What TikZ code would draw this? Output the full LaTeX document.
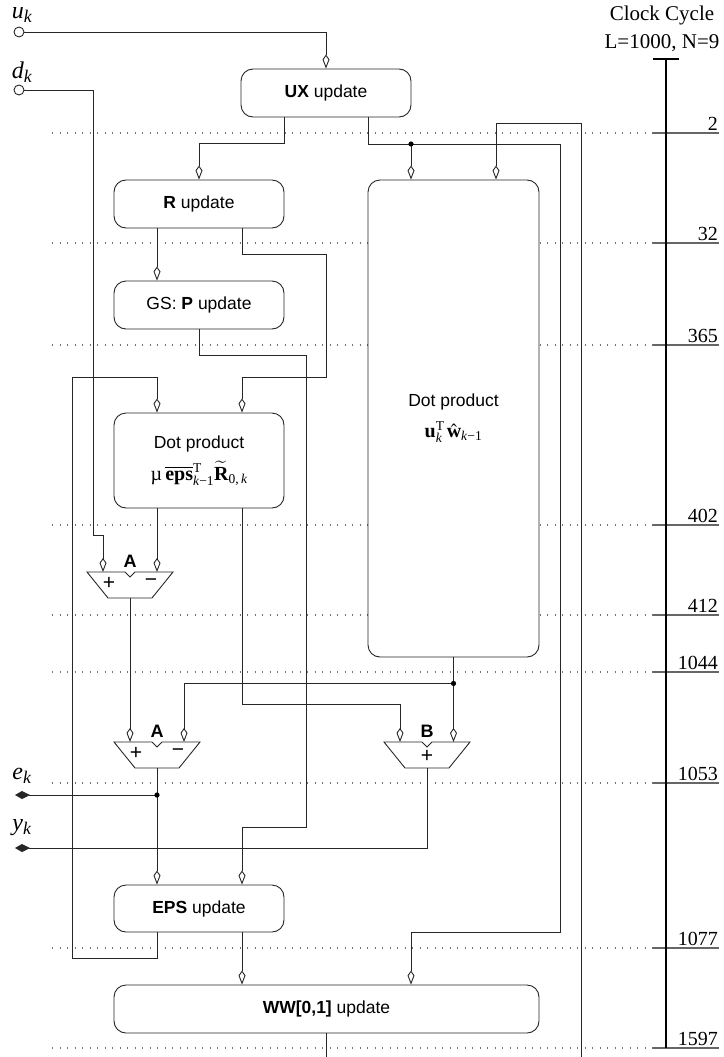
\documentclass[tikz,border=0pt]{standalone}
\usepackage{mathptmx}
\usepackage[no-math]{fontspec}
\setmainfont{Liberation Serif}
\newfontfamily\hv{Liberation Sans}
\usetikzlibrary{arrows.meta,calc}
\newcommand\scr[1]{\hbox{\rmfamily\fontsize{13.5}{14}\selectfont #1}}

\tikzset{
  subA/.pic={
    \draw[wire] (-43,0) -- (-5,0) -- (0,5) -- (5,0) -- (43,0) -- (22,26) -- (-22,26) -- cycle;
    \coordinate (-l) at (-27,0);
    \coordinate (-r) at (27,0);
    \coordinate (-o) at (0,26);
    \node[tag] (-tag) at (0,-11) {\tikzpictext};
    \node[sgn] (-p) at (-21,11) {+};
    \node[sgn] (-m) at (21,11) {−};
  },
  addB/.pic={
    \draw[wire] (-43,0) -- (-5,0) -- (0,5) -- (5,0) -- (43,0) -- (22,26) -- (-22,26) -- cycle;
    \coordinate (-l) at (-27,0);
    \coordinate (-r) at (27,0);
    \coordinate (-o) at (0,26);
    \node[tag] (-tag) at (0,-11) {\tikzpictext};
    \node[sgn] (-p) at (0,14) {+};
  }
}

\begin{document}
\begin{tikzpicture}[x=1pt,y=-1pt,
  wire/.style={line width=0.9pt,black!85},
  flow/.style={wire,-{Kite[open,length=14pt,width=7pt,inset=5pt]}},
  outflow/.style={wire,-{Kite[length=15pt,width=8pt,inset=8pt]}},
  blk/.style={draw=black!85,line width=0.9pt,fill=white,rounded corners=12pt,minimum width=170pt,minimum height=48pt,inner sep=0pt,align=center,font=\hv\fontsize{17.5}{21}\selectfont},
  port/.style={circle,draw=black!85,line width=0.9pt,minimum size=10pt,inner sep=0pt},
  lbl/.style={font=\fontsize{20}{22}\selectfont,inner sep=0pt},
  iolbl/.style={font=\itshape\fontsize{24}{26}\selectfont,inner sep=0pt},
  tag/.style={font=\hv\bfseries\fontsize{18}{20}\selectfont,inner sep=0pt},
  sgn/.style={font=\hv\fontsize{21}{22}\selectfont,inner sep=0pt},
  cycline/.style={black!55,line width=1.2pt,dash pattern=on 1.2pt off 6.3pt},
]
  \useasboundingbox (0,0) rectangle (723,1057);

  % clock cycle axis
  \foreach \y/\cc in {133/2,243/32,345/365,525/402,615/412,672/1044,783/1053,948/1077,1048/1597}{
    \draw[cycline] (52,\y) -- (653,\y);
    \draw[black!60,line width=1.1pt] (653,\y) -- (719,\y);
    \node[lbl,anchor=base east] at (718,\y-3) {\cc};
  }
  \draw[line width=2.2pt] (653,59) -- (679,59);
  \draw[line width=2.2pt] (666,59) -- (666,1048);
  \node[lbl,align=center,font=\fontsize{21}{28}\selectfont] (clk) at (662,29) {Clock Cycle\\L=1000, N=9};

  % inputs / outputs
  \node[port] (uin) at (19,32) {};
  \node[iolbl] (ulbl) at (22,15) {u\textsubscript{k}};
  \node[port] (din) at (19,90) {};
  \node[iolbl] (dlbl) at (22,72) {d\textsubscript{k}};
  \node[iolbl] (elbl) at (22,776) {e\textsubscript{k}};
  \node[iolbl] (ylbl) at (22,828) {y\textsubscript{k}};
  \coordinate (ek) at (15,795);
  \coordinate (yk) at (15,848);
  \coordinate (fbw) at (581,1057);
  \coordinate (wout) at (326.5,1057);

  % blocks
  \node[blk] (ux) at (326,93) {\textbf{UX} update};
  \node[blk] (rup) at (199,204) {\textbf{R} update};
  \node[blk] (gs) at (199,305) {GS: \textbf{P} update};
  \node[blk,minimum height=95pt] (dmu) at (199,460.5) {Dot product\\[8pt]{\rmfamily\fontsize{20}{22}\selectfont µ\,$\overline{\hbox{\bfseries eps}}^{\scr{T}}_{\scr{\itshape k\/}\scr{−1}}\widetilde{\hbox{\bfseries R}}_{\scr{0,\,\itshape k}}$}};
  \node[blk,minimum width=171pt,minimum height=477pt] (dbig) at (453.5,418.5) {Dot product\\[10pt]{\rmfamily\fontsize{20}{22}\selectfont$\hbox{\bfseries u}^{\scr{T}}_{\scr{\itshape k}}\,\hat{\hbox{\bfseries w}}_{\scr{\itshape k\/}\scr{−1}}$}};
  \node[blk,minimum height=47pt] (eps) at (199,908.5) {\textbf{EPS} update};
  \node[blk,minimum width=425pt] (ww) at (326.5,1009) {\textbf{WW[0,1]} update};

  \pic[pic text=A] (a1) at (130,572) {subA};
  \pic[pic text=A] (a2) at (157,742) {subA};
  \pic[pic text=B] (bb) at (427,742) {addB};

  % connections
  \draw[flow] (uin) -| (ux);
  \draw[flow] (din) -| (93,535) -| (a1-l);
  \draw[flow] ([xshift=-42pt]ux.south) -- ++(0,26) -| (rup);
  \coordinate (j1) at (411,144);
  \draw[flow] ([xshift=42pt]ux.south) |- (560,144) -- (560,932) -| ([xshift=84.5pt]ww.north);
  \draw[flow] (j1) -- (j1 |- dbig.north);
  \fill (j1) circle (2.6pt);
  \draw[flow] (fbw) -- (581,123) -| ([xshift=42.5pt]dbig.north);
  \draw[flow] ([xshift=-42pt]rup.south) -- ([xshift=-42pt]gs.north);
  \draw[flow] ([xshift=43pt]rup.south) |- (326,254) |- (242,377) -- ([xshift=43pt]dmu.north);
  \draw[flow] (gs.south) |- (306,355) -- (306,827) -| ([xshift=43pt]eps.north);
  \draw[flow] ([xshift=-42pt]eps.south) |- (72,958) -- (72,377) -| ([xshift=-42pt]dmu.north);
  \draw[flow] ([xshift=-42pt]dmu.south) -- (a1-r);
  \draw[flow] ([xshift=43pt]dmu.south) -- (242,704) -| (bb-l);
  \draw[flow] (a1-o) -- (a2-l);
  \draw[flow] (dbig.south) -- ++(0,26) coordinate (j2) -- (j2 |- bb-r);
  \draw[flow] (j2) -| (a2-r);
  \fill (j2) circle (2.6pt);
  \draw[flow] (a2-o) -- ([xshift=-42pt]eps.north);
  \coordinate (j3) at (157,795);
  \draw[outflow] (j3) -- (ek);
  \fill (j3) circle (2.6pt);
  \draw[outflow] (bb-o) |- (yk);
  \draw[flow] ([xshift=43pt]eps.south) coordinate (e1) -- (e1 |- ww.north);
  \draw[wire] (ww.south) -- (wout);
\end{tikzpicture}
\end{document}
